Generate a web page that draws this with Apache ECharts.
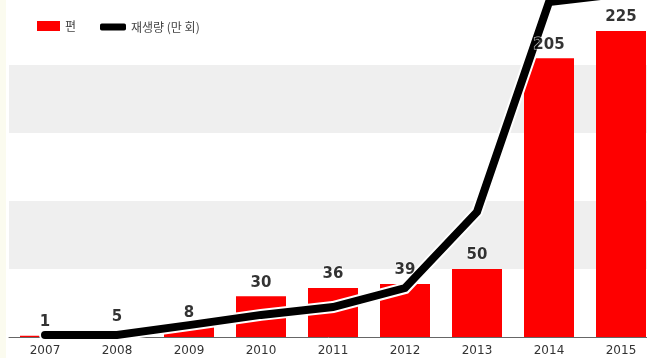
<!DOCTYPE html>
<html>
<head>
<meta charset="utf-8">
<script src="https://cdn.jsdelivr.net/npm/echarts@6/dist/echarts.min.js"></script>
<style>
  html, body { margin: 0; padding: 0; background: #fff; }
  #chart { width: 647px; height: 358px; }
</style>
</head>
<body>
<div id="chart"></div>
<script>
// categories and values
const years = ['2007', '2008', '2009', '2010', '2011', '2012', '2013', '2014', '2015']
const counts = [1, 5, 8, 30, 36, 39, 50, 205, 225] // 편
const plays = [6, 6, 35, 65, 88, 144, 368, 985, 1010] // 재생량 (만 회), estimated

const font = 'DejaVu Sans, sans-serif'
const krFont = '"Noto Sans CJK KR", sans-serif'

const chart = echarts.init(document.getElementById('chart'))

chart.setOption({
  animation: false,
  backgroundColor: '#fff',
  graphic: [
    {
      type: 'rect',
      left: 0,
      top: 0,
      shape: { width: 6, height: 358 },
      style: { fill: '#fbfbef' },
      z: -10
    }
  ],
  legend: [
    {
      data: ['편'],
      left: 37,
      top: 20,
      padding: 0,
      icon: 'rect',
      itemWidth: 23,
      itemHeight: 10,
      textStyle: { fontFamily: krFont, fontSize: 12, color: '#444' }
    },
    {
      data: ['재생량 (만 회)'],
      left: 100,
      top: 21,
      padding: 0,
      icon: 'roundRect',
      itemWidth: 26,
      itemHeight: 7,
      textStyle: { fontFamily: krFont, fontSize: 12, color: '#444' }
    }
  ],
  grid: {
    outerBoundsMode: 'none',
    left: 9,
    width: 648,
    top: -3,
    height: 340
  },
  xAxis: {
    type: 'category',
    data: years,
    boundaryGap: true,
    axisLine: { lineStyle: { color: '#666', width: 1 } },
    axisTick: { inside: true, length: 5, lineStyle: { color: '#666' } },
    axisLabel: { fontFamily: font, fontSize: 12, color: '#333', margin: 8 }
  },
  yAxis: [
    {
      type: 'value',
      min: 0,
      max: 250,
      interval: 50,
      axisLine: { show: false },
      axisTick: { show: false },
      axisLabel: { show: false },
      splitLine: { show: false },
      splitArea: {
        show: true,
        areaStyle: { color: ['#ffffff', '#efefef'] }
      }
    },
    {
      type: 'value',
      min: 0,
      max: 1000,
      show: false,
      splitLine: { show: false }
    }
  ],
  series: [
    {
      name: '편',
      type: 'bar',
      data: counts,
      barWidth: 50,
      itemStyle: { color: '#fe0000' },
      z: 2
    },
    {
      name: 'outline',
      type: 'line',
      yAxisIndex: 1,
      data: plays,
      symbol: 'none',
      lineStyle: { color: '#ffffff', width: 12, cap: 'round', join: 'miter' },
      z: 3
    },
    {
      name: '재생량 (만 회)',
      type: 'line',
      yAxisIndex: 1,
      data: plays,
      symbol: 'none',
      itemStyle: { color: '#000' },
      lineStyle: { color: '#000', width: 8, cap: 'round', join: 'miter' },
      z: 4
    },
    {
      name: 'labels',
      type: 'scatter',
      data: counts,
      symbolSize: 0,
      label: {
        show: true,
        position: 'top',
        distance: 6,
        fontFamily: font,
        fontSize: 15,
        fontWeight: 'bold',
        color: '#000',
        textBorderColor: '#fff',
        textBorderWidth: 1
      },
      z: 10
    }
  ]
})
</script>
</body>
</html>
